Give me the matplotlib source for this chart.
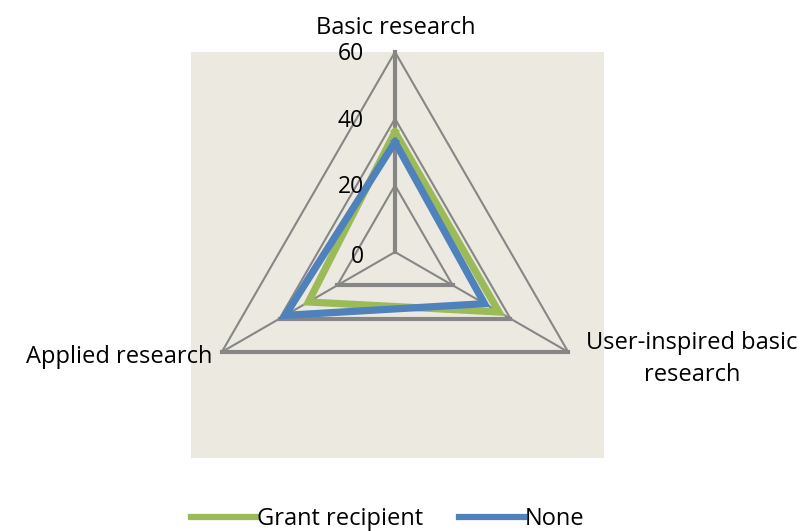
import numpy as np
import matplotlib.pyplot as plt
from matplotlib.patches import Rectangle

categories = ["Basic research", "User-inspired basic\nresearch", "Applied research"]
grant_recipient = [36, 36, 30]
none_values = [33, 31, 38]
ring_values = [0, 20, 40, 60]

GRID = "#868686"
GREEN = "#9BBB59"
BLUE = "#4F81BD"
BG = "#ECEAE0"

plt.rcParams['font.family'] = ['Open Sans', 'DejaVu Sans']

# angles clockwise from top
angles = np.array([90, -30, 210]) * np.pi / 180


def to_xy(vals):
    vals = np.asarray(vals, dtype=float)
    x = vals * np.cos(angles)
    y = vals * np.sin(angles)
    return np.append(x, x[0]), np.append(y, y[0])


px = 200 / 60  # pixels per unit
cx, cy = 395, 252
fig = plt.figure(figsize=(8.08, 5.31), dpi=100)
ax = fig.add_axes([0, 0, 1, 1])
ax.set_xlim(-cx / px, (808 - cx) / px)
ax.set_ylim(-(531 - cy) / px, cy / px)
ax.axis('off')

# plot area background
ax.add_patch(Rectangle((-204 / px, -206 / px), 413 / px, 406 / px,
                       facecolor=BG, edgecolor='none', zorder=0))

# rings
for r in ring_values[1:]:
    x, y = to_xy([r] * 3)
    ax.plot(x, y, color=GRID, lw=1.5, zorder=1)
    ax.plot(x[1:3], y[1:3], color=GRID, lw=3, zorder=1)
# spokes
top = ring_values[-1]
for i, a in enumerate(angles):
    ax.plot([0, top * np.cos(a)], [0, top * np.sin(a)], color=GRID,
            lw=3 if i == 0 else 1.5, zorder=1)

# radial tick labels
for r in ring_values:
    ax.text(-9.3, r - (1.5 if r == 0 else 0.6), str(r), ha='right', va='center',
            fontsize=16.5, zorder=3)

# series
x, y = to_xy(grant_recipient)
ax.plot(x, y, color=GREEN, lw=5.2, solid_joinstyle='miter', zorder=2,
        label="Grant recipient")
x, y = to_xy(none_values)
ax.plot(x, y, color=BLUE, lw=5.2, solid_joinstyle='miter', zorder=2,
        label="None")

# category labels
fs = 17
ax.text((396 - cx) / px, (cy - 28) / px, categories[0], ha='center', va='center',
        fontsize=fs)
ax.text((692 - cx) / px, (cy - 359) / px, categories[1], ha='center', va='center',
        fontsize=fs, linespacing=1.4)
ax.text((212 - cx) / px, (cy - 357) / px, categories[2], ha='right', va='center',
        fontsize=fs)

leg = fig.legend(loc='lower center', bbox_to_anchor=(0.48, -0.04), ncol=2,
                 frameon=False, fontsize=fs, handlelength=2.75,
                 handletextpad=0.05, columnspacing=1.5)
for h in leg.get_lines():
    h.set_linewidth(4.5)

fig.savefig("out.png", dpi=100)
